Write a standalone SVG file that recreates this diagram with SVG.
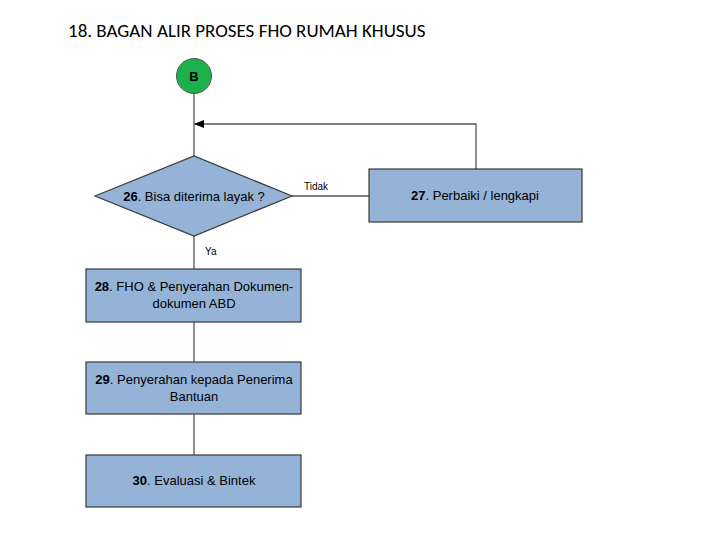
<svg xmlns="http://www.w3.org/2000/svg" width="720" height="540" viewBox="0 0 720 540">
<style>
.b{fill:#95b3d7;stroke:#3a3a3a;stroke-width:1.2}
.t{font-family:"Liberation Sans",Arial,sans-serif;font-size:13px;fill:#000;text-anchor:middle}
.c{stroke:#555;stroke-width:1.3;fill:none}
</style>
<defs><marker id="a" markerWidth="10" markerHeight="8" refX="9" refY="4" orient="auto" markerUnits="userSpaceOnUse"><path d="M0,0L10,4L0,8z" fill="#000"/></marker></defs>
<rect width="720" height="540" fill="#fff"/>
<text x="68" y="37" font-family="Carlito,'Liberation Sans',sans-serif" font-size="19">18. BAGAN ALIR PROSES FHO RUMAH KHUSUS</text>
<g id="connectors">
<line class="c" x1="194" y1="94" x2="194" y2="156"/>
<line class="c" x1="194" y1="236" x2="194" y2="269"/>
<line class="c" x1="194" y1="322" x2="194" y2="362"/>
<line class="c" x1="194" y1="414" x2="194" y2="455"/>
<line class="c" x1="292" y1="196" x2="369" y2="196"/>
<path class="c" d="M476,169V124H195" marker-end="url(#a)"/>
<text x="304" y="190" font-family="Liberation Sans,sans-serif" font-size="10">Tidak</text>
<text x="205" y="255" font-family="Liberation Sans,sans-serif" font-size="10">Ya</text>
</g>
<g id="B"><circle cx="194" cy="76" r="17.5" fill="#1db14b" stroke="#555"/><text class="t" x="194" y="81" font-weight="bold" font-size="14">B</text></g>
<g id="n26"><polygon class="b" points="95,196 194,156 292,196 194,236"/><text class="t" x="194" y="201"><tspan font-weight="bold">26</tspan>. Bisa diterima layak ?</text></g>
<g id="n27"><rect class="b" x="369" y="169" width="213" height="53"/><text class="t" x="475" y="200"><tspan font-weight="bold">27</tspan>. Perbaiki / lengkapi</text></g>
<g id="n28"><rect class="b" x="86" y="269" width="215" height="53"/><text class="t" x="194" y="291"><tspan font-weight="bold">28</tspan>. FHO &amp; Penyerahan Dokumen-</text><text class="t" x="194" y="308">dokumen ABD</text></g>
<g id="n29"><rect class="b" x="86" y="362" width="215" height="52"/><text class="t" x="194" y="384"><tspan font-weight="bold">29</tspan>. Penyerahan kepada Penerima</text><text class="t" x="194" y="401">Bantuan</text></g>
<g id="n30"><rect class="b" x="86" y="455" width="215" height="52"/><text class="t" x="194" y="485"><tspan font-weight="bold">30</tspan>. Evaluasi &amp; Bintek</text></g>
</svg>
